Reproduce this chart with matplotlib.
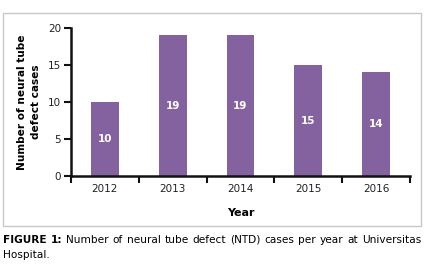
import matplotlib
matplotlib.use("Agg")
import matplotlib.pyplot as plt
from matplotlib.patches import Rectangle

years = ["2012", "2013", "2014", "2015", "2016"]
cases = [10, 19, 19, 15, 14]
yticks = [0, 5, 10, 15, 20]

W, H = 436, 266
fig = plt.figure(figsize=(W / 100, H / 100), dpi=100)
plt.rcParams['font.family'] = ['DejaVu Sans']

# frame box
fig.patches.append(Rectangle((3 / W, 1 - 226 / H), (421 - 3) / W, (226 - 13) / H,
                             transform=fig.transFigure, fill=False,
                             edgecolor='#c8c8c8', linewidth=1.0))

ax = fig.add_axes([71 / W, 1 - 176 / H, (410 - 71) / W, (176 - 28) / H])
x = list(range(len(years)))
ax.bar(x, cases, width=0.41, color='#8462A0')
for xi, v in zip(x, cases):
    ax.text(xi, v / 2, str(v), ha='center', va='center', color='white',
            fontsize=7.5, fontweight='bold')
ax.set_xlim(-0.5, len(years) - 0.5)
ax.set_ylim(0, 20)
ax.set_yticks(yticks)
ax.set_yticklabels([str(t) for t in yticks], fontsize=7.5, color='#222222')
ax.set_xticks([i - 0.5 for i in range(len(years) + 1)])
ax.set_xticklabels([])
ax.set_xticks(x, minor=True)
ax.set_xticklabels(years, minor=True, fontsize=7.5, color='#222222')
ax.tick_params(axis='x', which='minor', length=0, pad=6)
ax.tick_params(axis='x', which='major', length=5, width=1.5, direction='out', color='#111111')
ax.tick_params(axis='y', length=5, width=1.5, direction='out', color='#111111', pad=2)
for s in ['top', 'right']:
    ax.spines[s].set_visible(False)
for s in ['left', 'bottom']:
    ax.spines[s].set_linewidth(1.8)
    ax.spines[s].set_color('#111111')
ax.set_xlabel("Year", fontsize=8, fontweight='bold', labelpad=10)
ax.set_ylabel("Number of neural tube\ndefect cases", fontsize=7.6, fontweight='bold',
              labelpad=5, linespacing=1.45)

# justified caption line
renderer = fig.canvas.get_renderer()
words = [("FIGURE", 'bold'), ("1:", 'bold'), ("Number", 'normal'), ("of", 'normal'),
         ("neural", 'normal'), ("tube", 'normal'), ("defect", 'normal'), ("(NTD)", 'normal'),
         ("cases", 'normal'), ("per", 'normal'), ("year", 'normal'), ("at", 'normal'),
         ("Universitas", 'normal')]
x0, x1 = 3.0, 421.0
ycap = 1 - 240 / H
texts = []
widths = []
for w, fw in words:
    t = fig.text(0, ycap, w, fontsize=7.6, fontweight=fw, va='center', ha='left')
    bb = t.get_window_extent(renderer)
    texts.append(t)
    widths.append(bb.width)
gap = (x1 - x0 - sum(widths)) / (len(words) - 1)
cur = x0
for t, wd in zip(texts, widths):
    t.set_x(cur / W)
    cur += wd + gap
fig.text(3 / W, 1 - 255 / H, "Hospital.", fontsize=7.6, va='center', ha='left')

fig.savefig("out.png", dpi=100)
